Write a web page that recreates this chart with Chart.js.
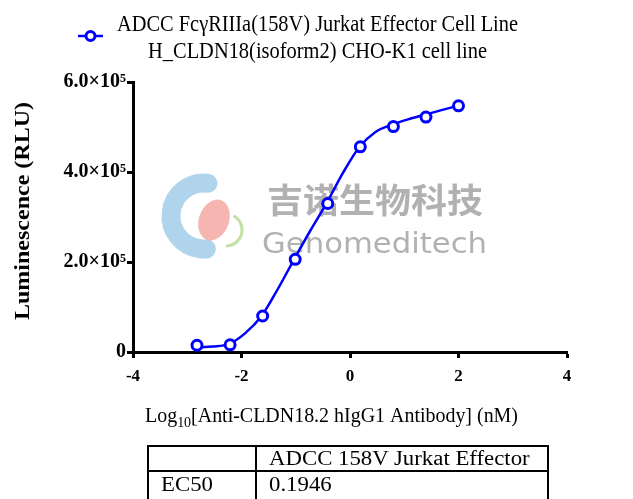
<!DOCTYPE html>
<html>
<head>
<meta charset="utf-8">
<script src="https://cdn.jsdelivr.net/npm/chart.js@4.4.0/dist/chart.umd.min.js"></script>
<style>
    body { margin: 0; background: #fff; }
    #wrap { position: relative; width: 633px; height: 499px; overflow: hidden; }
    #ec50 { position: absolute; left: 147px; top: 445px; width: 402px; border-collapse: collapse;
            font-family: "Liberation Serif", serif; font-size: 20px; color: #000; }
    #ec50 td { border: 2px solid #000; height: 23px; line-height: 23px; padding: 0 0 0 12px; white-space: nowrap; }
    #ec50 tr.last td { height: 30px; vertical-align: top; line-height: 24px; }
    #ec50 span { display: inline-block; transform: scaleX(1.14); transform-origin: left center; }
</style>
</head>
<body>
<div id="wrap">
    <canvas id="doseChart" width="633" height="499"></canvas>
    <table id="ec50">
        <tr><td style="width:94px"></td><td><span>ADCC 158V Jurkat Effector</span></td></tr>
        <tr class="last"><td><span>EC50</span></td><td><span>0.1946</span></td></tr>
    </table>
</div>
<script>
// measured points: log10 of antibody concentration (nM), 4-fold dilutions
const logConc = [-2.82, -2.21, -1.61, -1.01, -0.41, 0.19, 0.80, 1.40, 2.00];
// luminescence (RLU)
const rlu = [15000, 16000, 80000, 206000, 330000, 456000, 501000, 522000, 547000];

// fitted curve
const fitLogConc = [-2.83, -2.53, -2.23, -1.93, -1.63, -1.33, -1.03, -0.73, -0.43, -0.13, 0.17, 0.47, 0.77, 1.07, 1.37, 1.67, 1.98];
const fitRlu = [10000, 12000, 18000, 42000, 80000, 140000, 206000, 270000, 331000, 398000, 455000, 489000, 505000, 517000, 527000, 537000, 547000];

const xTicks = [-4, -2, 0, 2, 4];
const yTicks = [0, 200000, 400000, 600000];

const seriesName = ["ADCC FcγRIIIa(158V) Jurkat Effector Cell Line", "H_CLDN18(isoform2) CHO-K1 cell line"];
const xTitle = ["Log", "10", "[Anti-CLDN18.2 hIgG1 Antibody] (nM)"];
const yTitle = "Luminescence (RLU)";

const BLUE = "#0000ff";
const SERIF = '"Liberation Serif", "Times New Roman", serif';

// draw text squeezed/stretched to an exact width
function drawFit(ctx, text, x, y, width) {
    const w = ctx.measureText(text).width;
    ctx.save();
    ctx.translate(x, y);
    ctx.scale(width / w, 1);
    ctx.fillText(text, 0, 0);
    ctx.restore();
}

const watermark = {
    id: "watermark",
    beforeDatasetsDraw(chart) {
        const ctx = chart.ctx;
        ctx.save();
        // logo
        ctx.lineCap = "round";
        ctx.lineWidth = 19;
        ctx.strokeStyle = "rgba(80, 160, 210, 0.45)";
        ctx.beginPath();
        ctx.arc(204, 216, 33, -1.45, 1.5, true);
        ctx.stroke();
        ctx.fillStyle = "rgba(235, 90, 80, 0.45)";
        ctx.beginPath();
        ctx.ellipse(214, 220, 15, 21, 0.35, 0, Math.PI * 2);
        ctx.fill();
        ctx.lineWidth = 3;
        ctx.strokeStyle = "rgba(140, 200, 90, 0.55)";
        ctx.beginPath();
        ctx.arc(226, 230, 16, -1.0, 1.5);
        ctx.stroke();
        // text
        ctx.fillStyle = "rgba(100, 100, 100, 0.5)";
        ctx.textBaseline = "alphabetic";
        ctx.font = 'bold 34px "Noto Sans CJK SC"';
        drawFit(ctx, "吉诺生物科技", 267, 213, 216);
        ctx.font = '28px "DejaVu Sans"';
        drawFit(ctx, "Genomeditech", 262, 253, 225);
        ctx.restore();
    }
};

const extraText = {
    id: "extraText",
    afterDraw(chart) {
        const ctx = chart.ctx;
        ctx.save();
        ctx.fillStyle = "#000";
        ctx.textBaseline = "alphabetic";

        // legend
        ctx.strokeStyle = BLUE;
        ctx.lineWidth = 2.5;
        ctx.beginPath();
        ctx.moveTo(78, 36);
        ctx.lineTo(103, 36);
        ctx.stroke();
        ctx.lineWidth = 3;
        ctx.fillStyle = "#fff";
        ctx.beginPath();
        ctx.arc(90.5, 36, 4.5, 0, Math.PI * 2);
        ctx.fill();
        ctx.stroke();
        ctx.fillStyle = "#000";
        ctx.font = "24px " + SERIF;
        drawFit(ctx, seriesName[0], 117, 31, 401);
        drawFit(ctx, seriesName[1], 148, 58, 339);

        // x title with subscript
        ctx.font = "20px " + SERIF;
        const w0 = ctx.measureText(xTitle[0]).width;
        const w2 = ctx.measureText(xTitle[2]).width;
        ctx.font = "14px " + SERIF;
        const w1 = ctx.measureText(xTitle[1]).width;
        const k = 373 / (w0 + w1 + w2);
        ctx.translate(145, 422);
        ctx.scale(k, 1);
        ctx.font = "20px " + SERIF;
        ctx.fillText(xTitle[0], 0, 0);
        ctx.font = "14px " + SERIF;
        ctx.fillText(xTitle[1], w0, 5);
        ctx.font = "20px " + SERIF;
        ctx.fillText(xTitle[2], w0 + w1, 0);
        ctx.restore();

        // y title
        ctx.save();
        ctx.fillStyle = "#000";
        ctx.font = "bold 20px " + SERIF;
        ctx.translate(29, 320);
        ctx.rotate(-Math.PI / 2);
        drawFit(ctx, yTitle, 0, 0, 218);
        ctx.restore();
    }
};

new Chart("doseChart", {
    type: "scatter",
    data: {
        datasets: [{
            label: seriesName.join(" "),
            data: logConc.map((x, i) => ({x: x, y: rlu[i]})),
            showLine: false,
            pointRadius: 5,
            pointBorderWidth: 3,
            pointBackgroundColor: "#fff",
            pointBorderColor: BLUE
        }, {
            label: "fit",
            data: fitLogConc.map((x, i) => ({x: x, y: fitRlu[i]})),
            showLine: true,
            cubicInterpolationMode: "monotone",
            borderColor: BLUE,
            borderWidth: 2.5,
            pointRadius: 0
        }]
    },
    options: {
        responsive: false,
        animation: false,
        layout: {padding: {top: 82, right: 66, left: 0, bottom: 0}},
        plugins: {legend: {display: false}, tooltip: {enabled: false}},
        scales: {
            x: {
                min: -4,
                max: 4,
                afterBuildTicks: scale => { scale.ticks = xTicks.map(v => ({value: v})); },
                afterFit: scale => { scale.height = 147; },
                border: {display: true, width: 3, color: "#000"},
                grid: {drawOnChartArea: false, drawTicks: true, tickLength: 6, tickWidth: 3, tickColor: "#000"},
                ticks: {color: "#000", font: {family: SERIF, size: 17, weight: "bold"}, padding: 8, maxRotation: 0}
            },
            y: {
                min: 0,
                max: 600000,
                afterBuildTicks: scale => { scale.ticks = yTicks.map(v => ({value: v})); },
                afterFit: scale => { scale.width = 133; },
                border: {display: true, width: 3, color: "#000"},
                grid: {drawOnChartArea: false, drawTicks: true, tickLength: 6, tickWidth: 3, tickColor: "#000"},
                ticks: {
                    color: "#000",
                    font: {family: SERIF, size: 20, weight: "bold"},
                    padding: 1,
                    callback: v => v === 0 ? "0" : (v / 100000).toFixed(1) + "×10⁵"
                }
            }
        }
    },
    plugins: [watermark, extraText]
});
</script>
</body>
</html>
